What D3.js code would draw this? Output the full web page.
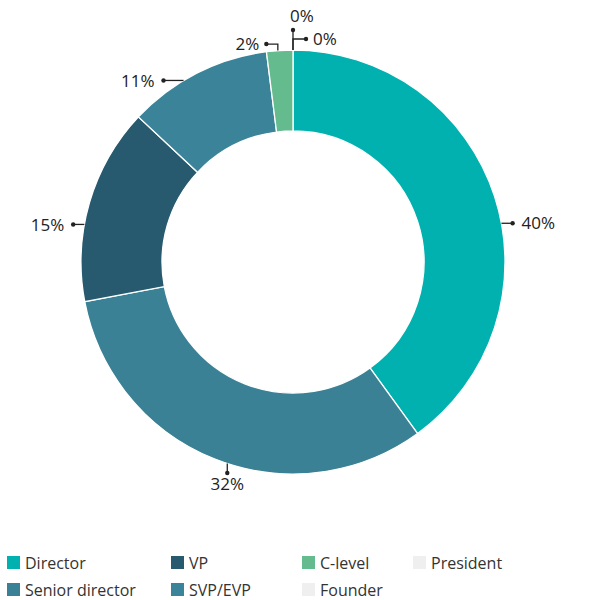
<!DOCTYPE html>
<html>
<head>
<meta charset="utf-8">
<script src="https://cdn.jsdelivr.net/npm/d3@7"></script>
<style>
  html, body { margin: 0; padding: 0; background: #fff; }
  svg { display: block; font-family: "Open Sans", "Noto Sans", sans-serif; }
</style>
</head>
<body>
<svg id="chart" width="596" height="600"></svg>
<script>
// Share of respondents by seniority level (percent), in ring order
const categories = ["Director", "Senior director", "VP", "SVP/EVP", "C-level", "Founder", "President"];
const values = [40, 32, 15, 11, 2, 0, 0];
const valueLabels = ["40%", "32%", "15%", "11%", "2%", "0%", "0%"];
const colors = ["#00b1b0", "#3b8196", "#275a6f", "#3a8398", "#63bb8e", "#efefef", "#efefef"];

// Placement of the outside labels: angular nudge (degrees) and leader style
const labelLayout = [
  { turn: 8, leader: "h" },
  { turn: -4.3, leader: "v" },
  { turn: -6.5, leader: "h" },
  { turn: -8.5, leader: "h" },
  { turn: -0.5, leader: "elbow", side: -1, rise: 6.5, run: 11.5 },
  { turn: 0, leader: "elbow", side: 1, rise: 11, run: 13 },
  { turn: 0, leader: "v", rise: 20 }
];

// Legend grid (column-major, two rows)
const legendCols = [7, 171, 302, 413];
const legendRows = [556, 583];

const svg = d3.select("#chart");
const cx = 293, cy = 262, R = 212, r = 131;

const pie = d3.pie().sort(null).value(d => d.value).startAngle(0).endAngle(2 * Math.PI);
const data = categories.map((c, i) => ({ name: c, value: values[i], color: colors[i], label: valueLabels[i], layout: labelLayout[i] }));
const arcs = pie(data);

const arc = d3.arc().innerRadius(r).outerRadius(R);

const g = svg.append("g").attr("transform", `translate(${cx},${cy})`);

g.selectAll("path.slice")
  .data(arcs.filter(a => a.data.value > 0))
  .join("path")
  .attr("class", "slice")
  .attr("d", arc)
  .attr("fill", d => d.data.color)
  .attr("stroke", "#fff")
  .attr("stroke-width", 1.3);

// Outside value labels with leader lines
const polar = (a, rad) => [rad * Math.sin(a), -rad * Math.cos(a)];
const ink = "#222";
const labels = g.append("g");

arcs.forEach(d => {
  const L = d.data.layout;
  const a = (d.startAngle + d.endAngle) / 2 + L.turn * Math.PI / 180;
  const lg = labels.append("g");
  let dot;

  if (L.leader === "h") {
    dot = polar(a, R + 11);
    const side = dot[0] >= 0 ? 1 : -1;
    const edgeX = side * Math.sqrt(R * R - dot[1] * dot[1]);
    lg.append("line").attr("x1", edgeX).attr("y1", dot[1]).attr("x2", dot[0]).attr("y2", dot[1]);
    lg.append("text").attr("x", dot[0] + side * 9).attr("y", dot[1]).attr("dy", "0.36em")
      .attr("text-anchor", side > 0 ? "start" : "end").text(d.data.label);
  } else if (L.leader === "v") {
    const edge = polar(a, R);
    if (edge[1] > 0) {
      dot = polar(a, R + 9);
      const edgeY = Math.sqrt(R * R - dot[0] * dot[0]);
      lg.append("line").attr("x1", dot[0]).attr("y1", edgeY).attr("x2", dot[0]).attr("y2", dot[1]);
      lg.append("text").attr("x", dot[0]).attr("y", dot[1] + 16.5).attr("text-anchor", "middle").text(d.data.label);
    } else {
      dot = [edge[0], edge[1] - L.rise];
      lg.append("line").attr("x1", edge[0]).attr("y1", edge[1]).attr("x2", dot[0]).attr("y2", dot[1]);
      lg.append("text").attr("x", dot[0] + 9).attr("y", dot[1] - 8.5).attr("text-anchor", "middle").text(d.data.label);
    }
  } else {
    const edge = polar(a, R);
    const bend = [edge[0], edge[1] - L.rise];
    dot = [bend[0] + L.side * L.run, bend[1]];
    lg.append("polyline").attr("points", [edge, bend, dot].map(p => p.join(",")).join(" "));
    lg.append("text").attr("x", dot[0] + L.side * 7).attr("y", dot[1]).attr("dy", "0.36em")
      .attr("text-anchor", L.side > 0 ? "start" : "end").text(d.data.label);
  }
  lg.append("circle").attr("cx", dot[0]).attr("cy", dot[1]).attr("r", 2.2).attr("fill", ink);
});

labels.selectAll("line, polyline").attr("stroke", ink).attr("stroke-width", 1.3).attr("fill", "none");
labels.selectAll("text").attr("fill", ink).attr("font-size", 17);

// Legend
const legend = svg.append("g");
data.forEach((d, i) => {
  const col = Math.floor(i / legendRows.length), row = i % legendRows.length;
  const item = legend.append("g").attr("transform", `translate(${legendCols[col]},${legendRows[row]})`);
  item.append("rect").attr("width", 13).attr("height", 13).attr("fill", d.color);
  item.append("text").attr("x", 18).attr("y", 12.5).attr("font-size", 16).attr("fill", "#333").text(d.name);
});
</script>
</body>
</html>
